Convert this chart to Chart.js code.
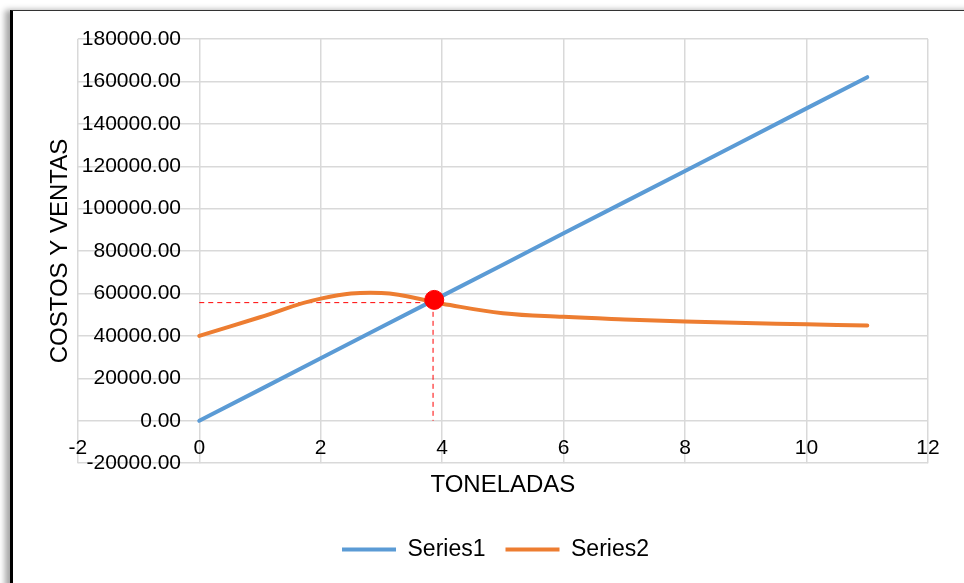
<!DOCTYPE html>
<html>
<head>
<meta charset="utf-8">
<script src="https://cdn.jsdelivr.net/npm/chart.js@4/dist/chart.umd.min.js"></script>
<style>
  html, body { margin: 0; padding: 0; background: #fff; }
  #wrap { position: relative; width: 964px; height: 583px; overflow: hidden; }
  #frame {
    position: absolute; left: 10px; top: 10px; width: 970px; height: 600px;
    border-left: 3px solid #000; border-top: 1px solid #333;
    box-shadow: -5px 0 6px rgba(0, 0, 0, 0.35); background: #fff;
  }
  #chart { position: absolute; left: 0; top: 0; }
</style>
</head>
<body>
<div id="wrap">
  <div id="frame"></div>
  <canvas id="chart" width="964" height="583"></canvas>
</div>
<script>
  'use strict';

  // toneladas
  var tons = [0, 1, 2, 3, 4, 5, 6, 7, 8, 9, 10, 11];
  // Series1 (ventas)
  var series1 = [0, 14700, 29500, 44200, 58900, 73600, 88400, 103100, 117800, 132500, 147300, 162000];
  // Series2 (costos)
  var series2 = [40000, 48800, 57600, 60300, 55200, 50700, 49000, 47800, 46800, 46100, 45500, 44900];
  // punto de equilibrio
  var breakEvenX = [3.87];
  var breakEvenY = [57000];
  // lineas guia
  var guideX = [0, 3.85, 3.85];
  var guideY = [55700, 55700, 0];

  var xTicks = [-2, 0, 2, 4, 6, 8, 10, 12];
  var yTicks = [-20000, 0, 20000, 40000, 60000, 80000, 100000, 120000, 140000, 160000, 180000];

  function toPoints(xs, ys) {
    var pts = [];
    for (var i = 0; i < xs.length; i++) {
      pts.push({ x: xs[i], y: ys[i] });
    }
    return pts;
  }

  var FONT = "'Liberation Sans', Arial, sans-serif";
  var GRID = '#d9d9d9';

  var ctx = document.getElementById('chart').getContext('2d');
  var chart = new Chart(ctx, {
    type: 'scatter',
    data: {
      datasets: [{
        label: 'Punto',
        data: toPoints(breakEvenX, breakEvenY),
        backgroundColor: '#ff0000',
        borderColor: '#ff0000',
        pointRadius: 9.5,
        showLine: false,
        order: 0,
        xAxisID: 'x',
        yAxisID: 'y'
      }, {
        label: 'Series1',
        data: toPoints(tons, series1),
        borderColor: '#5b9bd5',
        backgroundColor: '#5b9bd5',
        borderWidth: 4,
        borderCapStyle: 'round',
        pointRadius: 0,
        showLine: true,
        tension: 0,
        order: 1,
        xAxisID: 'x',
        yAxisID: 'y'
      }, {
        label: 'Series2',
        data: toPoints(tons, series2),
        borderColor: '#ed7d31',
        backgroundColor: '#ed7d31',
        borderWidth: 4,
        borderCapStyle: 'round',
        pointRadius: 0,
        showLine: true,
        tension: 0.4,
        order: 2,
        xAxisID: 'x',
        yAxisID: 'y'
      }, {
        label: 'Guia',
        data: toPoints(guideX, guideY),
        borderColor: '#ff0000',
        borderWidth: 1,
        borderDash: [5, 4],
        pointRadius: 0,
        showLine: true,
        order: 3,
        xAxisID: 'x',
        yAxisID: 'y'
      }]
    },
    options: {
      responsive: false,
      animation: false,
      devicePixelRatio: 1,
      events: [],
      layout: {
        padding: { left: 35, right: 8, top: 39, bottom: 12 }
      },
      plugins: {
        tooltip: { enabled: false },
        legend: {
          position: 'bottom',
          labels: {
            color: '#000',
            font: { family: FONT, size: 23 },
            usePointStyle: true,
            pointStyle: 'line',
            pointStyleWidth: 54,
            padding: 20,
            filter: function (item) {
              return item.text === 'Series1' || item.text === 'Series2';
            }
          }
        }
      },
      scales: {
        x: {
          type: 'linear',
          position: { y: 0 },
          min: -2,
          max: 12,
          afterBuildTicks: function (scale) {
            scale.ticks = xTicks.map(function (v) { return { value: v }; });
          },
          grid: { color: GRID, lineWidth: 1.5, drawTicks: false },
          border: { display: false },
          ticks: {
            color: '#000',
            font: { family: FONT, size: 21 },
            padding: 15,
            autoSkip: false,
            maxRotation: 0
          }
        },
        y: {
          type: 'linear',
          position: { x: -0.3 },
          min: -20000,
          max: 180000,
          afterBuildTicks: function (scale) {
            scale.ticks = yTicks.map(function (v) { return { value: v }; });
          },
          grid: { color: GRID, lineWidth: 1.5, drawTicks: false },
          border: { display: false },
          ticks: {
            color: '#000',
            font: { family: FONT, size: 21 },
            autoSkip: false,
            callback: function (v) { return Number(v).toFixed(2); }
          }
        },
        xT: {
          type: 'linear',
          axis: 'x',
          position: 'bottom',
          display: true,
          grid: { display: false },
          border: { display: false },
          ticks: { display: false },
          title: {
            display: true,
            text: 'TONELADAS',
            color: '#000',
            font: { family: FONT, size: 24 },
            padding: { top: 0, bottom: 18 }
          }
        },
        yT: {
          type: 'linear',
          axis: 'y',
          position: 'left',
          display: true,
          grid: { display: false },
          border: { display: false },
          ticks: { display: false },
          title: {
            display: true,
            text: 'COSTOS Y VENTAS',
            color: '#000',
            font: { family: FONT, size: 24 },
            padding: { top: 11, bottom: -5 }
          }
        },
        // espacio a la derecha del area del grafico
        yR: {
          type: 'linear',
          axis: 'y',
          position: 'right',
          display: true,
          grid: { display: false },
          border: { display: false },
          ticks: { display: false },
          afterFit: function (scale) {
            scale.width = 28;
          }
        }
      }
    }
  });
</script>
</body>
</html>
